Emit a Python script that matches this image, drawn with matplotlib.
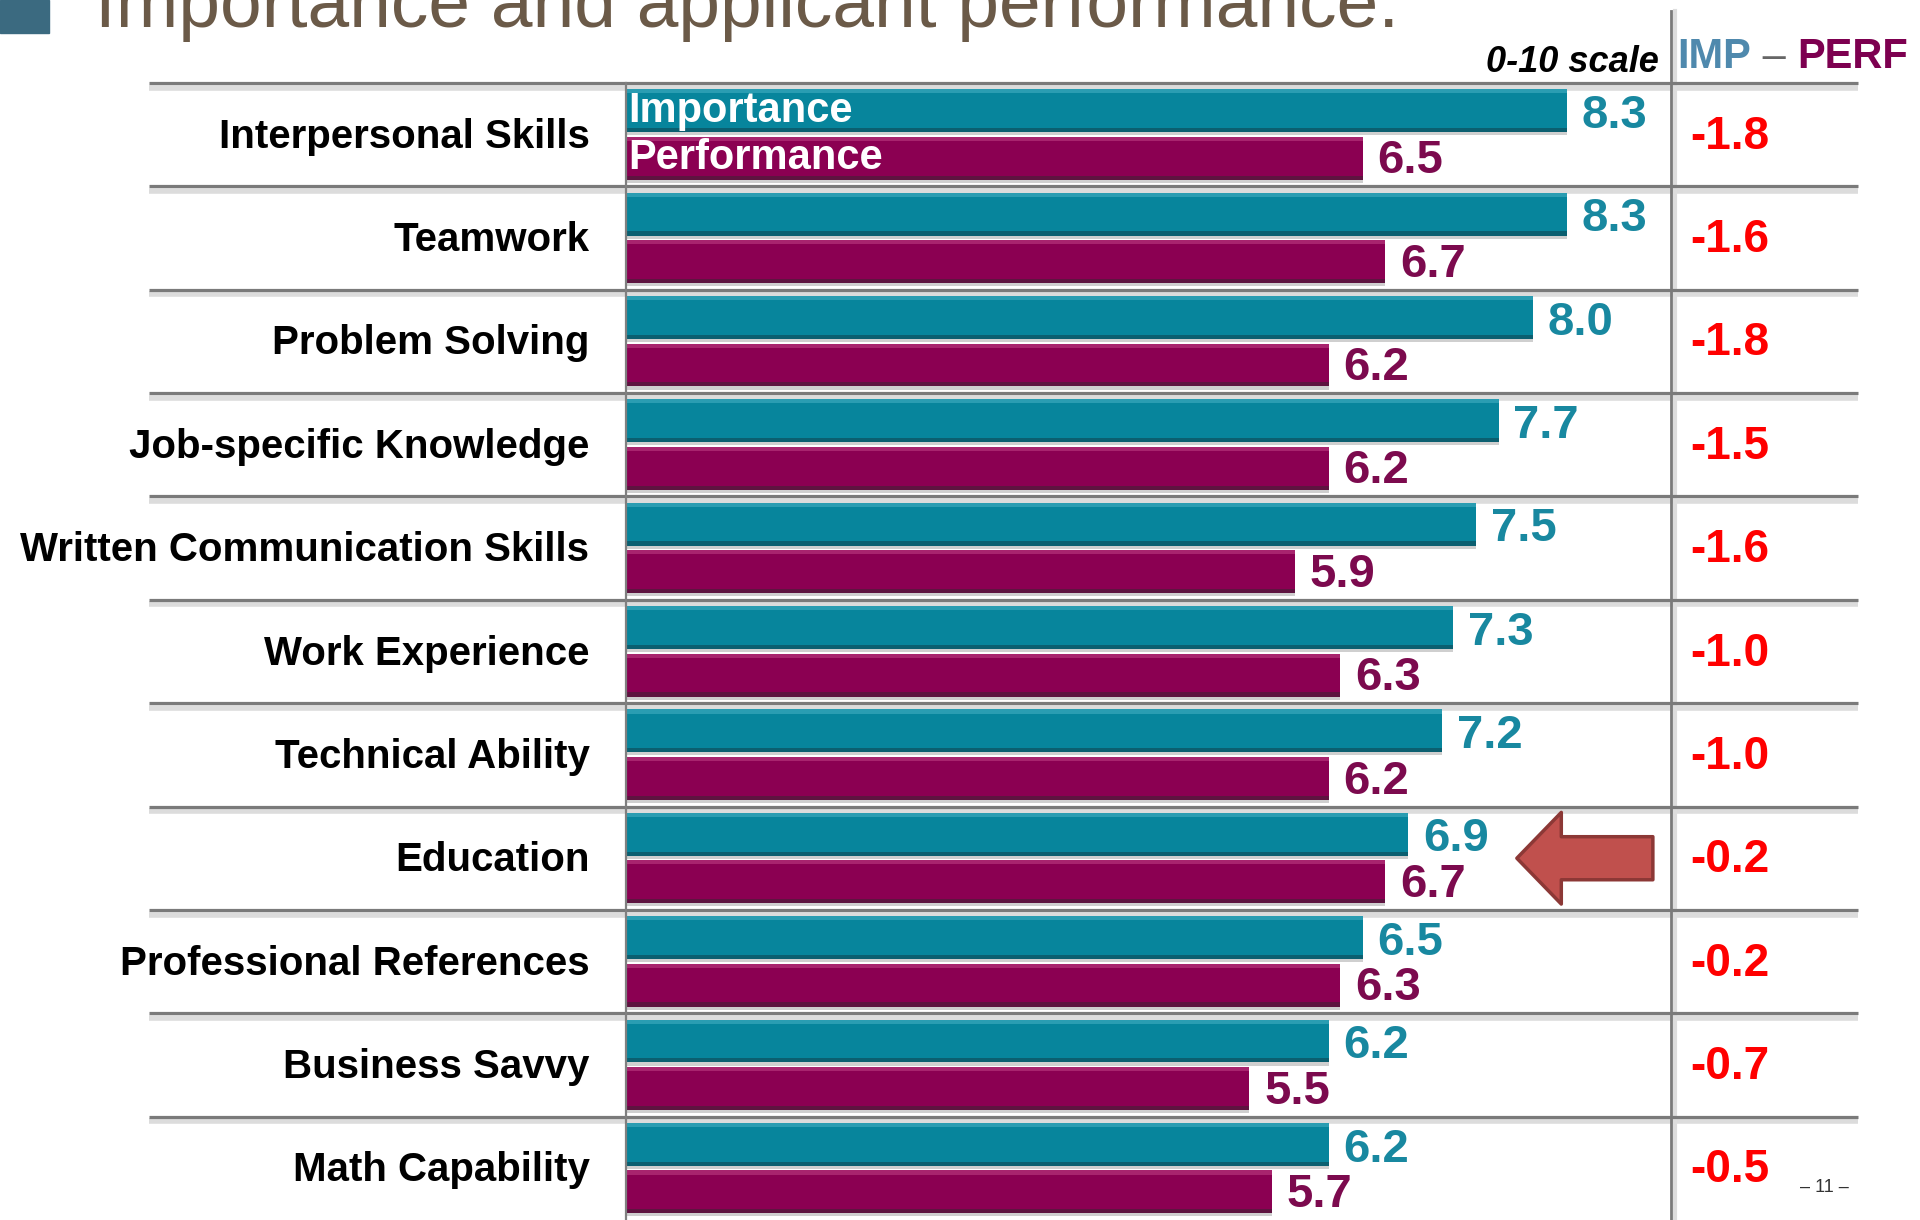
import numpy as np
import matplotlib
matplotlib.use('Agg')
import matplotlib.pyplot as plt
from matplotlib.patches import Rectangle

plt.rcParams['font.family'] = ['Liberation Sans', 'DejaVu Sans']

# data (0-10 scale)
categories = ['Interpersonal Skills', 'Teamwork', 'Problem Solving', 'Job-specific Knowledge',
              'Written Communication Skills', 'Work Experience', 'Technical Ability', 'Education',
              'Professional References', 'Business Savvy', 'Math Capability']
importance = [8.3, 8.3, 8.0, 7.7, 7.5, 7.3, 7.2, 6.9, 6.5, 6.2, 6.2]
performance = [6.5, 6.7, 6.2, 6.2, 5.9, 6.3, 6.2, 6.7, 6.3, 5.5, 5.7]
gap = [-1.8, -1.6, -1.8, -1.5, -1.6, -1.0, -1.0, -0.2, -0.2, -0.7, -0.5]
highlight = 'Education'

teal = '#07859c'
maroon = '#8b0052'
teal_txt = '#1888a0'
maroon_txt = '#7c0a4e'

fig = plt.figure(figsize=(19.2, 12.2), dpi=100)
W, H = 1920, 1220
ax = fig.add_axes([626 / W, 0, (1671 - 626) / W, 1 - 83 / H])
ax.set_xlim(0, 9.22)
ax.set_ylim(11, 0)
ax.axis('off')

n = len(categories)
rows = np.arange(n)
bh = 0.415
y_imp = rows + 0.268
y_perf = rows + 0.728

# bars with a bit of bevel
ax.barh(y_imp + 0.03, importance, height=bh, color='#cfcfcf', zorder=1)
ax.barh(y_perf + 0.03, performance, height=bh, color='#cfcfcf', zorder=1)
ax.barh(y_imp, importance, height=bh, color=teal, zorder=2)
ax.barh(y_perf, performance, height=bh, color=maroon, zorder=2)
ax.barh(y_imp - bh / 2 + 0.02, importance, height=0.04, color='#2a9db2', zorder=3)
ax.barh(y_perf - bh / 2 + 0.02, performance, height=0.04, color='#a8246e', zorder=3)
ax.barh(y_imp + bh / 2 - 0.02, importance, height=0.04, color='#0b5f70', zorder=3)
ax.barh(y_perf + bh / 2 - 0.02, performance, height=0.04, color='#5e1440', zorder=3)

for i in range(n):
    ax.text(importance[i] + 0.13, y_imp[i] + 0.05, f'{importance[i]:.1f}', color=teal_txt,
            fontsize=34, fontweight='bold', va='center', ha='left', zorder=5)
    ax.text(performance[i] + 0.13, y_perf[i] + 0.03, f'{performance[i]:.1f}', color=maroon_txt,
            fontsize=34, fontweight='bold', va='center', ha='left', zorder=5)
    ax.text(-0.035, rows[i] + 0.52, categories[i], transform=ax.get_yaxis_transform(),
            fontsize=29, fontweight='bold', ha='right', va='center', color='black')
    ax.text(1.018, rows[i] + 0.52, f'{gap[i]:.1f}', transform=ax.get_yaxis_transform(),
            fontsize=33, fontweight='bold', color='#ff0000', ha='left', va='center', clip_on=False)

# legend labels inside first row
ax.text(0.02, y_imp[0], 'Importance', color='white', fontsize=30, fontweight='bold',
        va='center', ha='left', zorder=6)
ax.text(0.02, y_perf[0], 'Performance', color='white', fontsize=30, fontweight='bold',
        va='center', ha='left', zorder=6)

# row separators
yt = ax.get_yaxis_transform()
for r in range(n):
    ax.plot([-0.456, 1.179], [r + 0.045, r + 0.045], transform=yt, color='#dcdcdc', lw=4,
            clip_on=False, zorder=0, solid_capstyle='butt')
    ax.plot([-0.456, 1.179], [r, r], transform=yt, color='#7a7a7a', lw=2.3,
            clip_on=False, zorder=4, solid_capstyle='butt')

# left axis line and right divider
ax.plot([0, 0], [0, 11], color='#808080', lw=1.6, clip_on=False, zorder=4)
ax.plot([1.004, 1.004], [-0.7, 11], transform=yt, color='#dddddd', lw=3, clip_on=False, zorder=0)
ax.plot([1.0, 1.0], [-0.7, 11], transform=yt, color='#7a7a7a', lw=2, clip_on=False, zorder=4)

# headers
ax.text(0.988, -0.2, '0-10 scale', transform=yt, fontsize=26, fontweight='bold', style='italic',
        ha='right', va='center', color='black', clip_on=False)
hx = 1.006
t1 = ax.text(hx, -0.25, 'IMP', transform=yt, fontsize=30, fontweight='bold', color='#4f89ad',
             ha='left', va='center', clip_on=False)
t2 = ax.annotate(' \u2013 ', xycoords=t1, xy=(1, 0), va='bottom', fontsize=30, color='#666666')
ax.annotate('PERF', xycoords=t2, xy=(1, 0), va='bottom', fontsize=30, fontweight='bold', color='#7d0050')

# arrow pointing at the highlighted row
k = categories.index(highlight)
ax.annotate('', xy=(7.86, k + 0.5), xytext=(9.06, k + 0.5),
            arrowprops=dict(arrowstyle='simple,head_length=32,head_width=66,tail_width=31',
                            mutation_scale=1, fc='#c0504d', ec='#8c3836', lw=2.5,
                            shrinkA=0, shrinkB=0), zorder=6)

# slide title and decoration
fig.text(95 / W, 1 - 27 / H, 'Importance and applicant performance.', fontsize=54,
         color='#6b5a48', ha='left', va='baseline')
fig.patches.append(Rectangle((0, 1 - 33 / H), 49 / W, 33 / H, transform=fig.transFigure,
                             color='#3b6a80', zorder=0))
fig.text(1824 / W, 1 - 1188 / H, '\u2013 11 \u2013', fontsize=13, color='#333333',
         ha='center', va='center')

fig.savefig('out.png', dpi=100)
